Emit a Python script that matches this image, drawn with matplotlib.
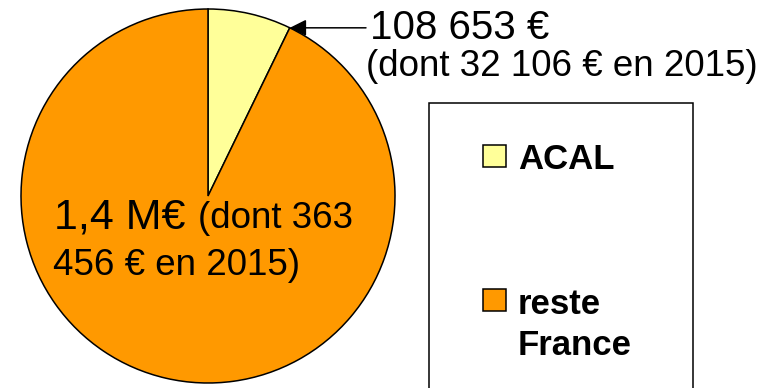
import numpy as np
import matplotlib
matplotlib.use("Agg")
import matplotlib.pyplot as plt
from matplotlib.patches import Rectangle

plt.rcParams["font.family"] = ["Liberation Sans", "DejaVu Sans"]

labels = ["ACAL", "reste\nFrance"]
values = [108653, 1400000]
colors = ["#FFFF99", "#FF9900"]
acal_text = ["108 653 €", "(dont 32 106 € en 2015)"]
reste_text = ["1,4 M€", "(dont 363", "456 € en 2015)"]

W, H = 767, 388
fig = plt.figure(figsize=(W / 100, H / 100), dpi=100)

# pie: centre (208, 196) px, radius 187 px
cx, cy, r = 208, 196, 187
ax = fig.add_axes([(cx - r) / W, (H - cy - r) / H, 2 * r / W, 2 * r / H])
wedges, _ = ax.pie(values, colors=colors, startangle=90, counterclock=False,
                   wedgeprops=dict(edgecolor="black", linewidth=1.1))
ax.set_xlim(-1, 1)
ax.set_ylim(-1, 1)
ax.axis("off")

def px(x, y):
    return ((x - cx) / r, (cy - y) / r)

# callout for the ACAL wedge
frac = values[0] / sum(values)
theta = np.deg2rad(90 - 360 * frac)
edge = (np.cos(theta), np.sin(theta))
tx = px(366, 0)[0]
ax.annotate("", xy=edge, xytext=(tx, edge[1]),
            arrowprops=dict(arrowstyle="-|>", color="black", lw=1.1,
                            mutation_scale=25, shrinkA=0, shrinkB=0),
            annotation_clip=False)
ax.text(px(370, 0)[0], edge[1], acal_text[0], fontsize=29, ha="left", va="center",
        clip_on=False)
ax.text(*px(366, 76), acal_text[1], fontsize=26.5, ha="left", va="baseline",
        clip_on=False)

# label inside the big wedge
ax.text(*px(54, 228), reste_text[0], fontsize=31, ha="left", va="baseline")
ax.text(*px(198, 228), reste_text[1], fontsize=26.5, ha="left", va="baseline")
ax.text(*px(53, 275), reste_text[2], fontsize=26.5, ha="left", va="baseline")

# legend box, drawn by hand
def fx(x):
    return x / W

def fy(y):
    return 1 - y / H

fig.patches.append(Rectangle((fx(429), fy(420)), fx(693) - fx(429), fy(103) - fy(420),
                             transform=fig.transFigure, facecolor="white",
                             edgecolor="black", linewidth=1.1))
# baseline given for the last line of each label
for lab, col, ytop, ybase in zip(labels, colors, [145, 289], [169, 355]):
    fig.patches.append(Rectangle((fx(483), fy(ytop + 22)), 23 / W, 22 / H,
                                 transform=fig.transFigure, facecolor=col,
                                 edgecolor="black", linewidth=1.1))
    fig.text(fx(518), fy(ybase), lab, fontsize=25, fontweight="bold",
             ha="left", va="baseline", linespacing=1.32)

fig.savefig("out.png", dpi=100)
